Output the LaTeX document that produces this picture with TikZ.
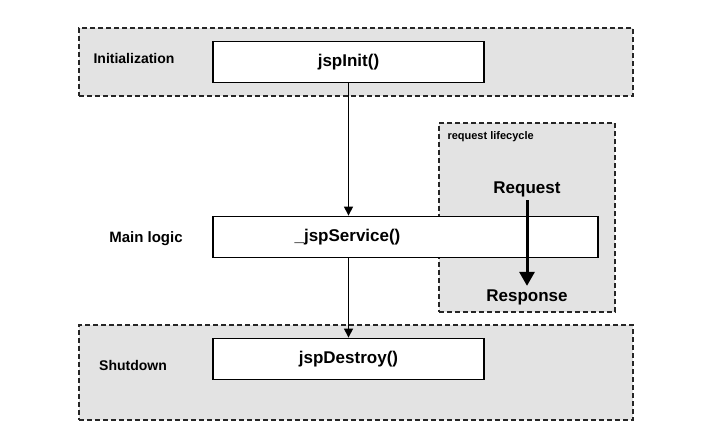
\documentclass[tikz,border=0pt]{standalone}
\usepackage{fontspec}
\setmainfont{Liberation Sans}
\usetikzlibrary{arrows.meta,positioning,calc}
\tikzset{phase/.style={draw=black!85,fill=black!11,dash pattern=on 5pt off 3pt,line width=1.4pt,minimum width=554pt,inner sep=0pt},
method/.style={draw=black,fill=white,line width=1.8pt,minimum width=271pt,minimum height=41pt,inner sep=0pt,font=\fontsize{17}{20}\selectfont\bfseries},
tag/.style={font=\fontsize{14}{17}\selectfont\bfseries},
edge/.style={-{Triangle[length=9pt,width=9pt]},line width=1.2pt},
flow/.style={-{Triangle[length=14pt,width=15pt]},line width=3pt}}

\begin{document}
\begin{tikzpicture}[x=1pt,y=-1pt]
\useasboundingbox[fill=white](0,0)rectangle(710,443);
\node[phase,minimum height=68pt](initphase)at(356,62){};
\node[phase,minimum height=95pt](downphase)at(356,372.5){};
\node[phase,minimum width=176pt,minimum height=189pt](cycle)at(527,217.5){};
\node[method](init)at(348.5,62){jspInit()};
\node[method,minimum width=385pt,label={[xshift=-58pt,font=\fontsize{17}{20}\selectfont\bfseries]center:\_jspService()}](service)at(405.5,237){};
\node[method](destroy)at(348.5,359){jspDestroy()};
\node[tag](inittag)at(134,59){Initialization};
\node[tag,font=\fontsize{15}{18}\selectfont\bfseries](maintag)at(146,239){Main logic};
\node[tag](downtag)at(133,365){Shutdown};
\node[tag,font=\fontsize{11}{13}\selectfont\bfseries,anchor=west](cycletag)at(444,137){request lifecycle};
\node[font=\fontsize{17}{20}\selectfont\bfseries](req)at(527,189){Request};
\node[font=\fontsize{17}{20}\selectfont\bfseries](resp)at(527,297){Response};
\draw[edge](init)--(init|-service.north);
\draw[edge](destroy|-service.south)--(destroy);
\draw[flow](req)--(resp);
\end{tikzpicture}
\end{document}
